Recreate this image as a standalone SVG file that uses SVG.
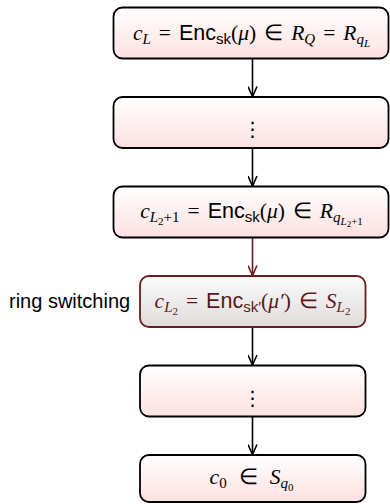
<svg xmlns="http://www.w3.org/2000/svg" width="390" height="504" viewBox="0 0 390 504">
<style>
.box{fill:url(#pink);stroke:#000;stroke-width:1.8}
.sw{fill:url(#gray);stroke:#6b1d1d;stroke-width:1.8}
.m{font-family:"Liberation Serif",serif;font-size:21.5px;fill:#000}
.i{font-style:italic}
.s{font-family:"Liberation Sans",sans-serif;font-style:normal}
.lbl{font-family:"Liberation Sans",sans-serif;font-size:20px;fill:#000}
.dots{font-family:"DejaVu Sans",sans-serif;font-size:20px;fill:#000}
.c{stroke:#000;stroke-width:1.6;fill:none}
.cr{stroke:#6b1d1d;stroke-width:1.6;fill:none}
</style>
<defs>
<linearGradient id="pink" x1="0" y1="0" x2="0" y2="1"><stop offset="0" stop-color="#ffffff"/><stop offset="1" stop-color="#fde0e0"/></linearGradient>
<linearGradient id="gray" x1="0" y1="0" x2="0" y2="1"><stop offset="0" stop-color="#fbfbfb"/><stop offset="1" stop-color="#dfdbdb"/></linearGradient>
<marker id="ah" viewBox="0 0 12 10" refX="11" refY="5" markerWidth="12" markerHeight="10" markerUnits="userSpaceOnUse" orient="auto"><path d="M1,0.5 L11,5 L1,9.5" fill="none" stroke="#000" stroke-width="1.6"/></marker>
<marker id="ahr" viewBox="0 0 12 10" refX="11" refY="5" markerWidth="12" markerHeight="10" markerUnits="userSpaceOnUse" orient="auto"><path d="M1,0.5 L11,5 L1,9.5" fill="none" stroke="#6b1d1d" stroke-width="1.6"/></marker>
</defs>
<g id="connectors">
<line class="c" x1="252.5" y1="58.5" x2="252.5" y2="96.5" marker-end="url(#ah)"/>
<line class="c" x1="252.5" y1="148" x2="252.5" y2="186" marker-end="url(#ah)"/>
<line class="cr" x1="252.5" y1="237.5" x2="252.5" y2="275.5" marker-end="url(#ahr)"/>
<line class="c" x1="252.5" y1="327" x2="252.5" y2="365" marker-end="url(#ah)"/>
<line class="c" x1="252.5" y1="416.5" x2="252.5" y2="454.5" marker-end="url(#ah)"/>
</g>
<g id="n1">
<rect class="box" x="113.5" y="7.5" width="275" height="51" rx="9"/>
<text class="m" x="251.5" y="39.5" text-anchor="middle"><tspan class="i">c</tspan><tspan class="i" font-size="15" dy="4">L</tspan><tspan dy="-4" dx="8">=</tspan><tspan class="s" dx="8">Enc</tspan><tspan class="s" font-size="15" dy="4">sk</tspan><tspan dy="-4">(</tspan><tspan class="i">μ</tspan><tspan>)</tspan><tspan dx="8">∈</tspan><tspan class="i" dx="8">R</tspan><tspan class="i" font-size="15" dy="4">Q</tspan><tspan dy="-4" dx="8">=</tspan><tspan class="i" dx="8">R</tspan><tspan class="i" font-size="15" dy="4">q</tspan><tspan class="i" font-size="11" dy="3">L</tspan></text>
</g>
<g id="n2">
<rect class="box" x="113.5" y="97" width="275" height="51" rx="9"/>
<text class="dots" x="252.5" y="136" text-anchor="middle">⋮</text>
</g>
<g id="n3">
<rect class="box" x="113.5" y="186.5" width="275" height="51" rx="9"/>
<text class="m" x="251.5" y="217.5" text-anchor="middle"><tspan class="i">c</tspan><tspan class="i" font-size="15" dy="4">L</tspan><tspan font-size="11" dy="3">2</tspan><tspan font-size="15" dy="-3">+1</tspan><tspan dy="-4" dx="8">=</tspan><tspan class="s" dx="8">Enc</tspan><tspan class="s" font-size="15" dy="4">sk</tspan><tspan dy="-4">(</tspan><tspan class="i">μ</tspan><tspan>)</tspan><tspan dx="8">∈</tspan><tspan class="i" dx="8">R</tspan><tspan class="i" font-size="15" dy="4">q</tspan><tspan class="i" font-size="11" dy="3">L</tspan><tspan font-size="9" dy="2">2</tspan><tspan font-size="11" dy="-2">+1</tspan></text>
</g>
<g id="n4">
<rect class="sw" x="140" y="276" width="225.5" height="51" rx="9"/>
<text class="m" x="252.5" y="307.5" text-anchor="middle" style="fill:#5a1818"><tspan class="i">c</tspan><tspan class="i" font-size="15" dy="4">L</tspan><tspan font-size="11" dy="3">2</tspan><tspan dy="-7" dx="8">=</tspan><tspan class="s" dx="8">Enc</tspan><tspan class="s" font-size="15" dy="4">sk′</tspan><tspan dy="-4">(</tspan><tspan class="i">μ′</tspan><tspan>)</tspan><tspan dx="8">∈</tspan><tspan class="i" dx="8">S</tspan><tspan class="i" font-size="15" dy="4">L</tspan><tspan font-size="11" dy="3">2</tspan></text>
<text class="lbl" x="9" y="308">ring switching</text>
</g>
<g id="n5">
<rect class="box" x="140" y="365.5" width="225.5" height="51" rx="9"/>
<text class="dots" x="252.5" y="405" text-anchor="middle">⋮</text>
</g>
<g id="n6">
<rect class="box" x="140" y="455" width="225.5" height="47" rx="9"/>
<text class="m" x="251.5" y="484" text-anchor="middle"><tspan class="i">c</tspan><tspan font-size="15" dy="4">0</tspan><tspan dy="-4" dx="12">∈</tspan><tspan class="i" dx="12">S</tspan><tspan class="i" font-size="15" dy="4">q</tspan><tspan font-size="11" dy="3">0</tspan></text>
</g>
</svg>
